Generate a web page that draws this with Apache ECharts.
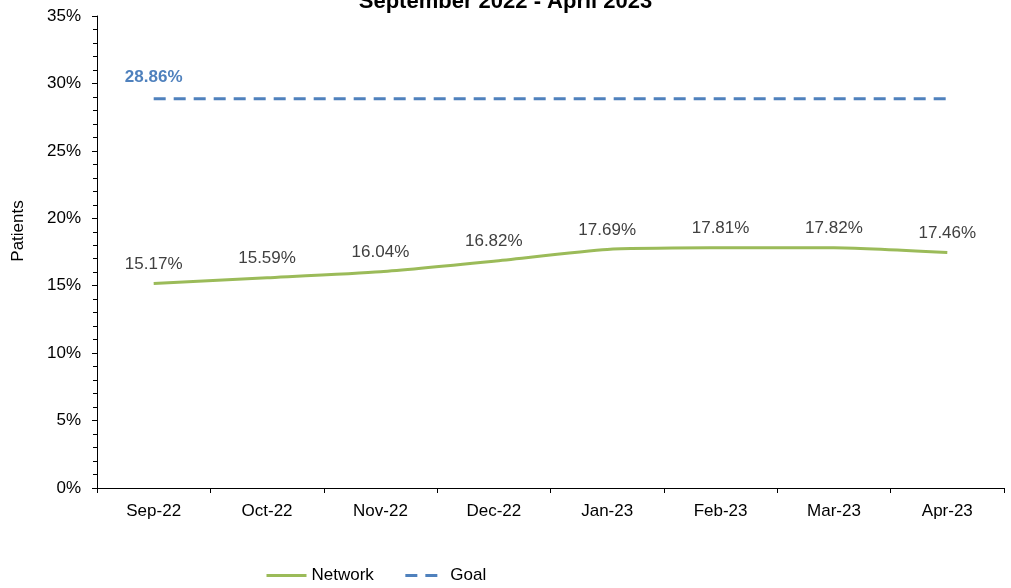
<!DOCTYPE html>
<html>
<head>
<meta charset="utf-8">
<script src="https://cdn.jsdelivr.net/npm/echarts@6/dist/echarts.min.js"></script>
<style>
  html, body { margin: 0; padding: 0; background: #fff; }
  #main { width: 1011px; height: 588px; }
</style>
</head>
<body>
<div id="main"></div>
<script>
const months = ['Sep-22', 'Oct-22', 'Nov-22', 'Dec-22', 'Jan-23', 'Feb-23', 'Mar-23', 'Apr-23']
const network = [15.17, 15.59, 16.04, 16.82, 17.69, 17.81, 17.82, 17.46]
const goal = [28.86, 28.86, 28.86, 28.86, 28.86, 28.86, 28.86, 28.86]

const font = 'Liberation Sans, Arial, sans-serif'

var chartDom = document.getElementById('main');
var myChart = echarts.init(chartDom);
var option = {
    animation: false,
    title: {
        text: 'September 2022 - April 2023',
        left: 'center',
        top: -14,
        textStyle: {
            fontFamily: font,
            fontSize: 22,
            fontWeight: 'bold',
            color: '#000'
        }
    },
    legend: {
        bottom: -1,
        left: 260,
        itemWidth: 40,
        itemHeight: 10,
        itemGap: 30,
        itemStyle: { opacity: 0 },
        lineStyle: { width: 3 },
        textStyle: {
            fontFamily: font,
            fontSize: 17,
            color: '#000'
        },
        data: ['Network', 'Goal']
    },
    grid: {
        left: 97,
        right: 7,
        top: 16,
        bottom: 100
    },
    xAxis: {
        type: 'category',
        data: months,
        boundaryGap: true,
        axisLine: { lineStyle: { color: '#000', width: 1 } },
        axisTick: { show: true, length: 5, lineStyle: { color: '#000' } },
        axisLabel: {
            fontFamily: font,
            fontSize: 17,
            color: '#000',
            margin: 15
        }
    },
    yAxis: {
        type: 'value',
        min: 0,
        max: 35,
        interval: 5,
        name: 'Patients',
        nameLocation: 'middle',
        nameGap: 70,
        nameTextStyle: {
            fontFamily: font,
            fontSize: 17,
            color: '#000',
            padding: [0, 0, 0, 42]
        },
        axisLine: { show: true, lineStyle: { color: '#000', width: 1 } },
        axisTick: { show: true, length: 5, lineStyle: { color: '#000' } },
        minorTick: { show: true, splitNumber: 5, length: 4, lineStyle: { color: '#000' } },
        splitLine: { show: false },
        axisLabel: {
            fontFamily: font,
            fontSize: 17,
            color: '#000',
            margin: 16,
            formatter: '{value}%'
        }
    },
    series: [
        {
            name: 'Network',
            type: 'line',
            data: network,
            symbol: 'circle',
            symbolSize: 0,
            showSymbol: true,
            smooth: 0.2,
            lineStyle: { color: '#9BBB59', width: 3 },
            itemStyle: { color: '#9BBB59' },
            label: {
                show: true,
                position: 'top',
                distance: 11,
                fontFamily: font,
                fontSize: 17,
                color: '#404040',
                formatter: p => p.value.toFixed(2) + '%'
            }
        },
        {
            name: 'Goal',
            type: 'line',
            data: goal,
            symbol: 'circle',
            symbolSize: 0,
            showSymbol: true,
            lineStyle: { color: '#4F81BD', width: 3, type: [12, 8] },
            itemStyle: { color: '#4F81BD' },
            label: {
                show: true,
                position: 'top',
                distance: 13,
                fontFamily: font,
                fontSize: 17,
                fontWeight: 'bold',
                color: '#4F81BD',
                formatter: p => p.dataIndex === 0 ? p.value.toFixed(2) + '%' : ''
            }
        }
    ]
};
option && myChart.setOption(option);
window.addEventListener('resize', () => {
    myChart.resize();
})
</script>
</body>
</html>
